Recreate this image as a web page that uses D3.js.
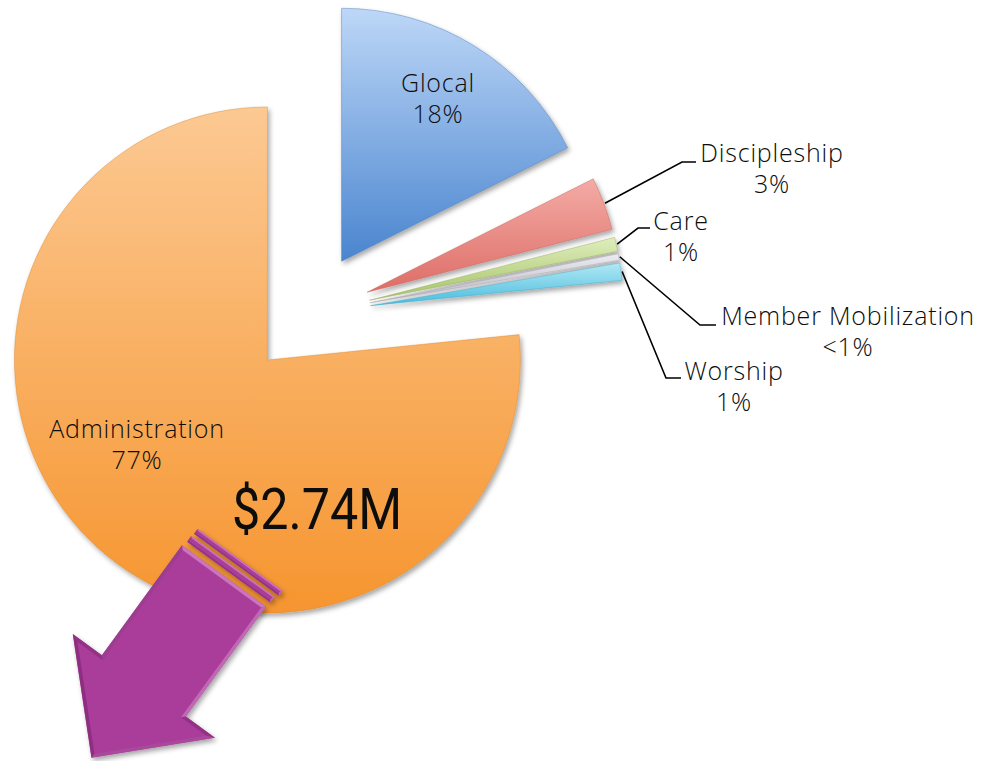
<!DOCTYPE html>
<html>
<head>
<meta charset="utf-8">
<script src="https://cdn.jsdelivr.net/npm/d3@7"></script>
<style>
  body { margin: 0; background: #fff; }
  svg { display: block; }
  text { font-family: "Open Sans", Lato, sans-serif; font-weight: 300; fill: #0d0d0d; }
</style>
</head>
<body>
<div id="chart"></div>
<script>
// budget split, share of total (%)
const categories = ["Glocal", "Discipleship", "Care", "Member Mobilization", "Worship", "Administration"];
const shares = [17.6, 3.4, 0.9, 0.4, 1.1, 76.6];
const shareLabels = ["18%", "3%", "1%", "<1%", "1%", "77%"];
const totalLabel = "$2.74M";

// gradient stops (top, bottom) per slice
const sliceColors = {
    "Glocal": ["#bdd7f7", "#4a85cf"],
    "Discipleship": ["#f4aba6", "#dd6d66"],
    "Care": ["#dfeebd", "#a6c266"],
    "Member Mobilization": ["#ecebf0", "#b9b5c4"],
    "Worship": ["#b2e8f5", "#48bcdd"],
    "Administration": ["#fcc993", "#f6952f"]
};

const width = 986, height = 761;
const pieCenter = [309, 314], radius = 253, explode = 62;

// where the labels sit (text centre x, first baseline, leader bend/end)
const labelLayout = {
    "Glocal": { x: 438, y: 92 },
    "Administration": { x: 137, y: 438 },
    "Discipleship": { x: 772, y: 162, bend: [682, 162], end: [696, 162] },
    "Care": { x: 681, y: 230, bend: [638, 228], end: [650, 228] },
    "Member Mobilization": { x: 848, y: 325, bend: [700, 325], end: [716, 325] },
    "Worship": { x: 734, y: 380, bend: [666, 378], end: [681, 378] }
};
const lineGap = 31;

const svg = d3.select("#chart").append("svg")
    .attr("width", width)
    .attr("height", height);

const defs = svg.append("defs");

const shadow = defs.append("filter").attr("id", "shadow")
    .attr("x", "-20%").attr("y", "-20%").attr("width", "140%").attr("height", "140%");
shadow.append("feDropShadow")
    .attr("dx", 2).attr("dy", 3).attr("stdDeviation", 2.5)
    .attr("flood-color", "#000").attr("flood-opacity", 0.35);

categories.forEach((c, i) => {
    const g = defs.append("linearGradient").attr("id", "grad" + i)
        .attr("x1", 0).attr("y1", 0).attr("x2", 0).attr("y2", 1);
    g.append("stop").attr("offset", "0%").attr("stop-color", sliceColors[c][0]);
    g.append("stop").attr("offset", "100%").attr("stop-color", sliceColors[c][1]);
});

const data = categories.map((c, i) => ({ name: c, value: shares[i], label: shareLabels[i] }));

const pie = d3.pie().sort(null).value(d => d.value)
    .startAngle(0).endAngle(2 * Math.PI);
const arc = d3.arc().innerRadius(0).outerRadius(radius);
const arcs = pie(data);

function shift(d) {
    const a = (d.startAngle + d.endAngle) / 2;
    return [Math.sin(a) * explode, -Math.cos(a) * explode];
}

const pieG = svg.append("g")
    .attr("transform", "translate(" + pieCenter[0] + "," + pieCenter[1] + ")");

pieG.selectAll("path.slice")
    .data(arcs)
    .join("path")
    .attr("class", "slice")
    .attr("transform", d => "translate(" + shift(d) + ")")
    .attr("d", arc)
    .attr("fill", (d, i) => "url(#grad" + i + ")")
    .attr("stroke", (d) => d3.color(sliceColors[d.data.name][1]).darker(0.4))
    .attr("stroke-opacity", 0.5)
    .attr("stroke-width", 0.8)
    .attr("filter", "url(#shadow)");

// labels
const labelG = svg.append("g");
arcs.forEach(d => {
    const lay = labelLayout[d.data.name];
    if (lay.bend) {
        const a = (d.startAngle + d.endAngle) / 2;
        const s = shift(d);
        const start = [pieCenter[0] + s[0] + Math.sin(a) * (radius + 1),
                       pieCenter[1] + s[1] - Math.cos(a) * (radius + 1)];
        labelG.append("path")
            .attr("d", d3.line()([start, lay.bend, lay.end]))
            .attr("fill", "none")
            .attr("stroke", "#000")
            .attr("stroke-width", 1.6);
    }
    const t = labelG.append("text")
        .attr("text-anchor", "middle")
        .attr("font-size", 25)
        .attr("letter-spacing", 0.8);
    t.append("tspan").attr("x", lay.x).attr("y", lay.y).text(d.data.name);
    t.append("tspan").attr("x", lay.x).attr("y", lay.y + lineGap).text(d.data.label);
});

svg.append("text")
    .attr("x", 232)
    .attr("y", 529)
    .attr("font-size", 58)
    .attr("textLength", 170)
    .attr("lengthAdjust", "spacingAndGlyphs")
    .style("font-family", "Roboto, 'Liberation Sans', sans-serif")
    .style("font-weight", 400)
    .text(totalLabel);

// the purple arrow coming out of the pie
const arrowBase = [224, 576];
const ua = [-0.589, 0.808];          // along the shaft
const va = [0.808, 0.589];           // across the shaft
const toXY = p => [arrowBase[0] + ua[0] * p[0] + va[0] * p[1],
                   arrowBase[1] + ua[1] * p[0] + va[1] * p[1]];
const shaftHalf = 52, headHalf = 88, shaftLen = 136, arrowLen = 225;
const arrowShape = [[0, -shaftHalf], [shaftLen, -shaftHalf], [shaftLen, -headHalf],
                    [arrowLen, 0], [shaftLen, headHalf], [shaftLen, shaftHalf], [0, shaftHalf]];
const stripes = [
    [[-13, -50], [-6, -50], [-6, 53], [-13, 53]],
    [[-22.5, -49], [-16.5, -49], [-16.5, 56], [-22.5, 56]]
];

const arrowFill = "#a93c99";
const dark = "#86287a", light = "#d989ce";
const lightDir = [0.93, -0.37];

function inset(poly, k) {
    // shift each edge inwards by k and intersect neighbours
    const n = poly.length;
    const lines = poly.map((p, i) => {
        const q = poly[(i + 1) % n];
        const dx = q[0] - p[0], dy = q[1] - p[1];
        const len = Math.hypot(dx, dy);
        const nx = -dy / len, ny = dx / len;
        return { p: [p[0] + nx * k, p[1] + ny * k], d: [dx, dy] };
    });
    return poly.map((p, i) => {
        const l1 = lines[(i - 1 + n) % n], l2 = lines[i];
        const den = l1.d[0] * l2.d[1] - l1.d[1] * l2.d[0];
        const t = ((l2.p[0] - l1.p[0]) * l2.d[1] - (l2.p[1] - l1.p[1]) * l2.d[0]) / den;
        return [l1.p[0] + l1.d[0] * t, l1.p[1] + l1.d[1] * t];
    });
}

function bevelShape(g, poly, k) {
    const outer = poly.map(toXY);
    let inner = inset(outer, k);
    if (Math.abs(d3.polygonArea(inner)) > Math.abs(d3.polygonArea(outer))) inner = inset(outer, -k);
    g.append("path")
        .attr("d", d3.line()(outer) + "Z")
        .attr("fill", arrowFill);
    const n = outer.length;
    const cx = d3.polygonCentroid(outer);
    for (let i = 0; i < n; i++) {
        const a = outer[i], b = outer[(i + 1) % n];
        const dx = b[0] - a[0], dy = b[1] - a[1], len = Math.hypot(dx, dy);
        let nx = dy / len, ny = -dx / len;
        const mx = (a[0] + b[0]) / 2 - cx[0], my = (a[1] + b[1]) / 2 - cx[1];
        if (nx * mx + ny * my < 0) { nx = -nx; ny = -ny; }
        const dot = nx * lightDir[0] + ny * lightDir[1];
        g.append("path")
            .attr("d", d3.line()([a, b, inner[(i + 1) % n], inner[i]]) + "Z")
            .attr("fill", d3.interpolateRgb(dark, light)((dot + 1) / 2))
            .attr("fill-opacity", 0.8);
    }
}

const arrowG = svg.append("g").attr("filter", "url(#shadow)");
stripes.forEach(s => bevelShape(arrowG, s, 1.5));
bevelShape(arrowG, arrowShape, 3.5);
</script>
</body>
</html>
